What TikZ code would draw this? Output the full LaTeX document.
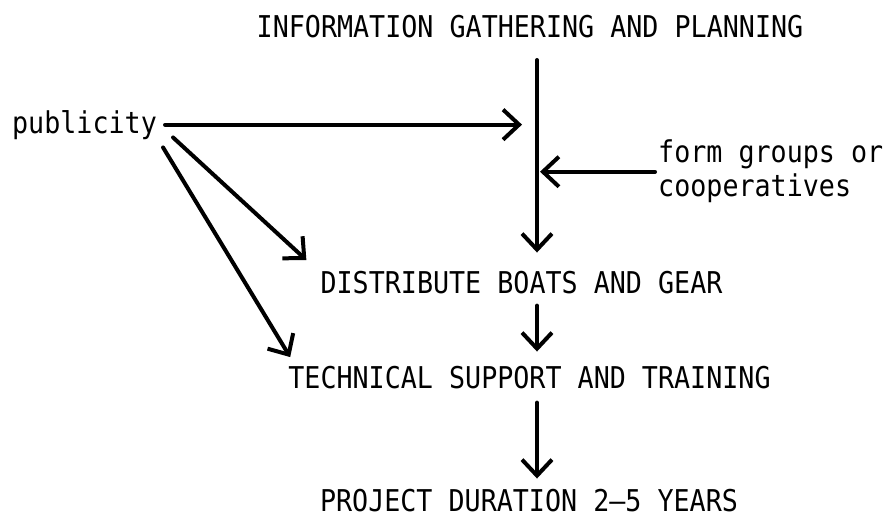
\documentclass[tikz,border=0pt]{standalone}
\usepackage{fontspec}
\usepackage{tikz}
\usetikzlibrary{arrows.meta,calc}
\newfontfamily\typewriter[FakeStretch=0.89]{DejaVu Sans Mono}

\begin{document}
\begin{tikzpicture}[x=1pt,y=-1pt]
\tikzstyle{lbl}=[inner sep=0, font=\typewriter\fontsize{30}{34}\selectfont]
\tikzstyle{connect}=[-{Straight Barb[length=16pt,width=30pt]}, line width=4pt, line cap=round]

\useasboundingbox (0,0) rectangle (889,519);

  \node[lbl, anchor=base]  (plan)       at (530,38)  {INFORMATION GATHERING AND PLANNING};
  \node[lbl, anchor=base]  (publicity)  at (84.5,133) {publicity};
  \node[lbl, anchor=north west, align=left] (groups) at (658,140) {form groups or\\cooperatives};
  \node[lbl, anchor=base]  (distribute) at (521.5,293) {DISTRIBUTE BOATS AND GEAR};
  \node[lbl, anchor=base]  (training)   at (529.5,388) {TECHNICAL SUPPORT AND TRAINING};
  \node[lbl, anchor=base]  (duration)   at (529,511) {PROJECT DURATION 2–5 YEARS};

  \coordinate (trunk) at (537,60);

  % main column
  \path (trunk) edge [connect, shorten >=18pt] (distribute.north -| trunk);
  \path (distribute.south -| trunk) edge [connect, shorten <=12pt, shorten >=14pt] (training.north -| trunk);
  \path (training.south -| trunk) edge [connect, shorten <=14pt, shorten >=10pt] (duration.north -| trunk);

  % side inputs
  \path (publicity.east) edge [connect, shorten <=8pt, shorten >=15pt] (publicity.east -| trunk);
  \path (groups.west) edge [connect, shorten <=3pt, shorten >=3pt] (groups.west -| trunk);
  \path ([xshift=16pt,yshift=2pt]publicity.south east) edge [connect] ([xshift=-14pt,yshift=22pt]distribute.west);
  \path ([xshift=6pt,yshift=-8pt]publicity.south east) edge [connect] ([xshift=2pt,yshift=20pt]training.west);

\end{tikzpicture}
\end{document}
